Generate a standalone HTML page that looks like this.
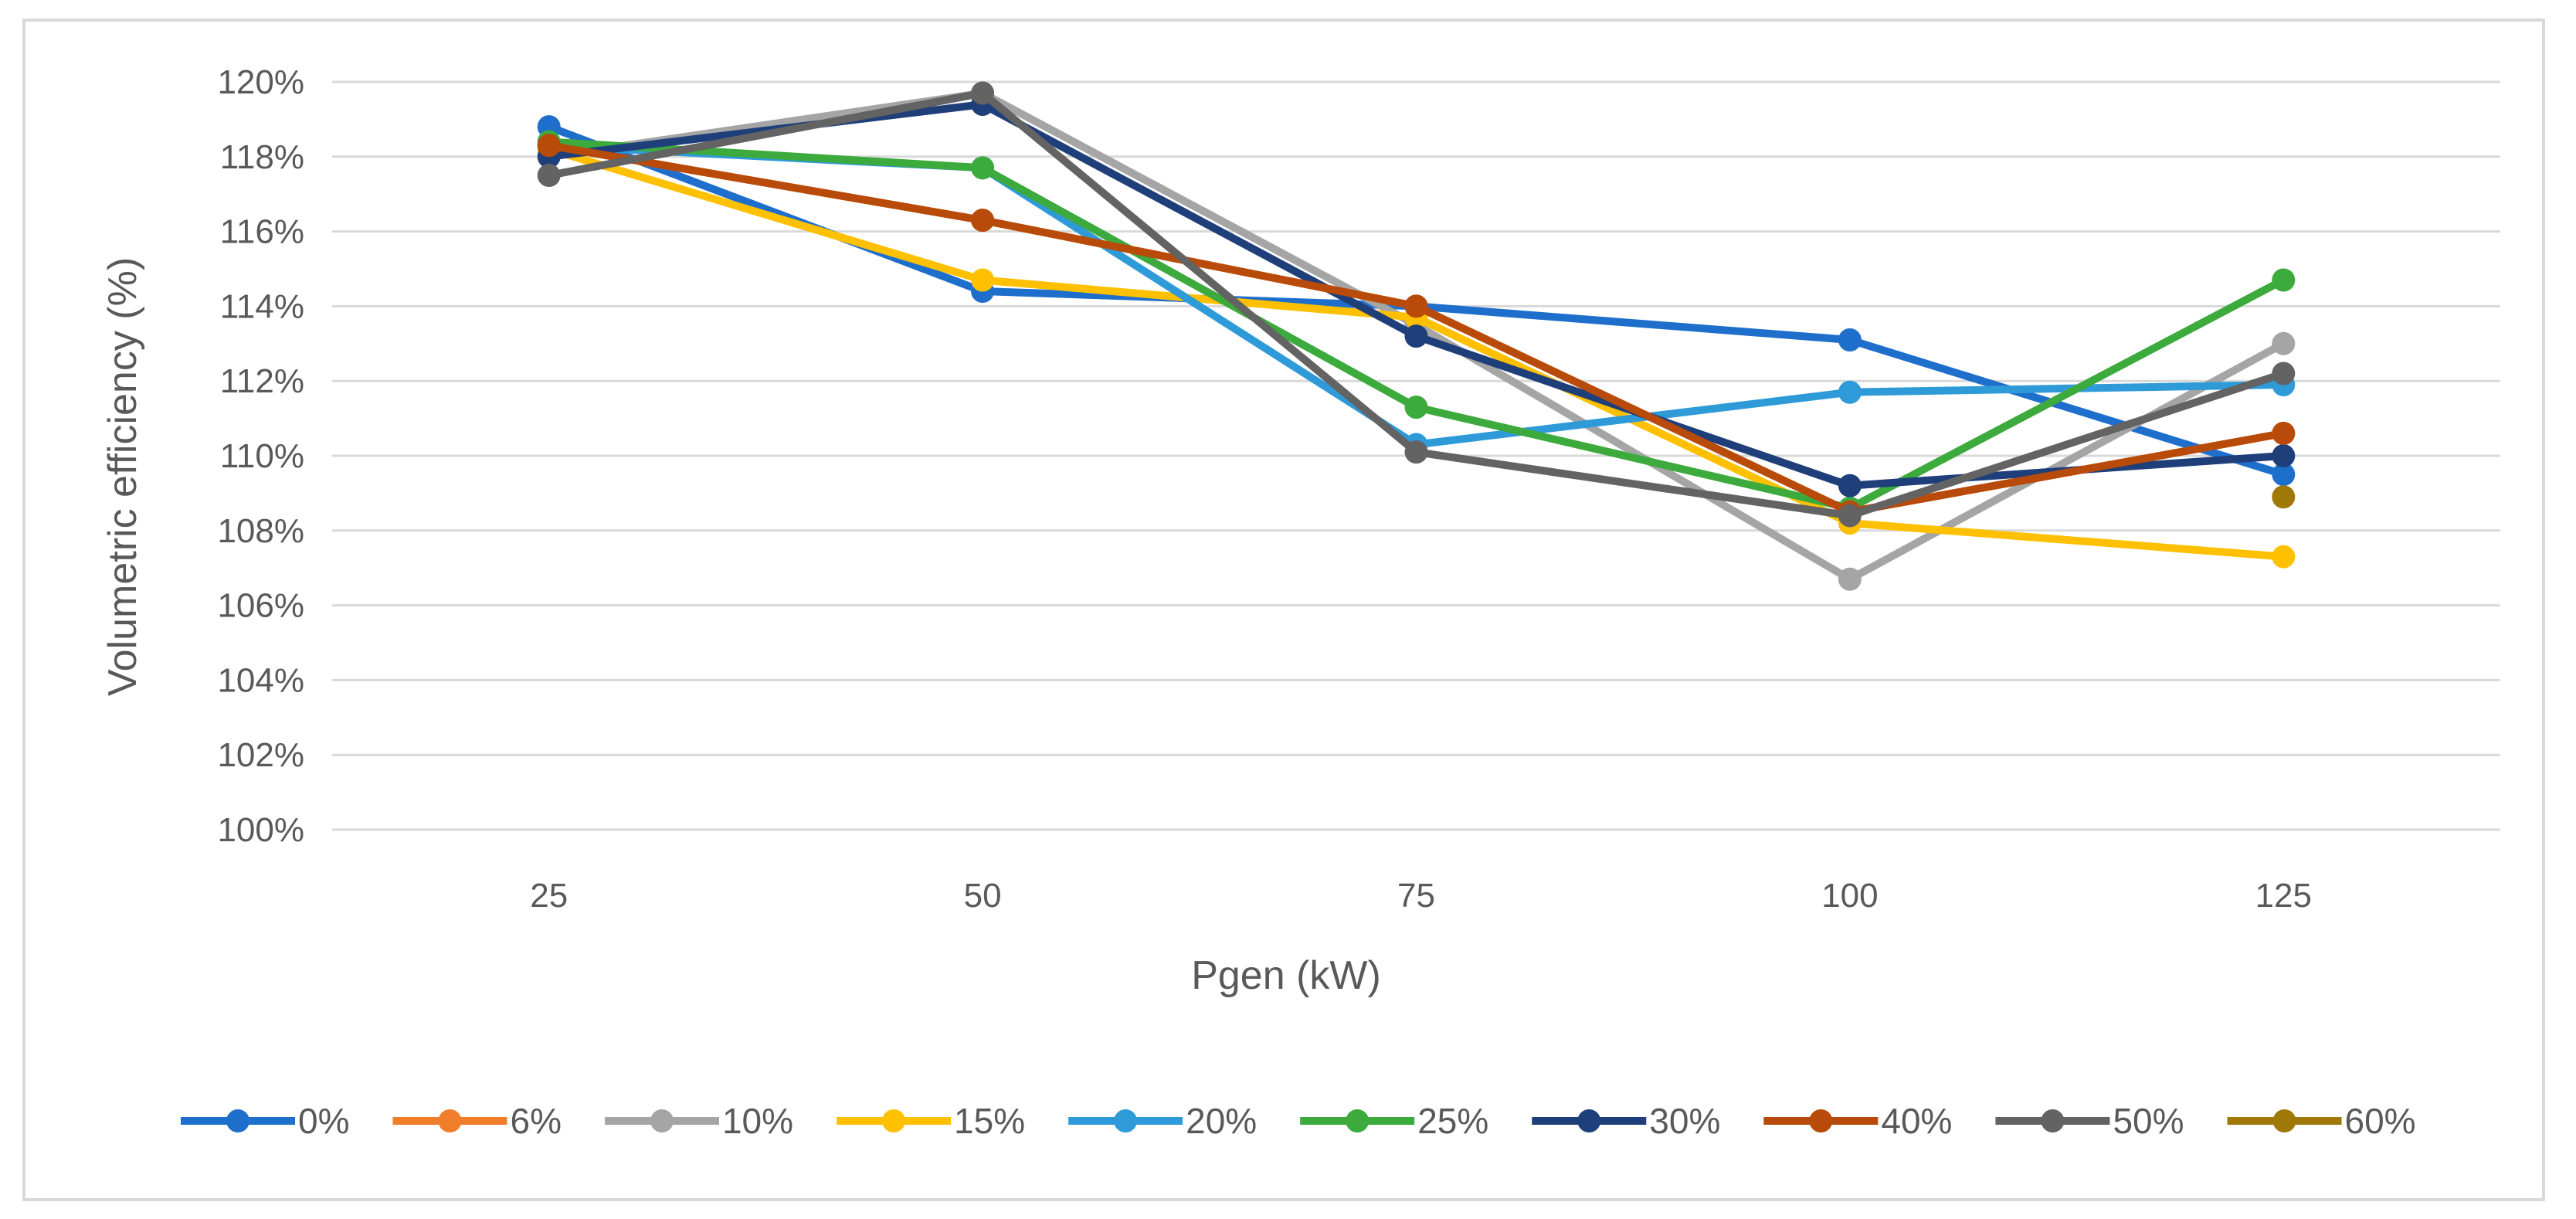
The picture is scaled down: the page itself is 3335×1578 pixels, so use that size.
<!DOCTYPE html>
<html><head><meta charset="utf-8"><style>
html,body{margin:0;padding:0;background:#fff}
svg{display:block}
text{font-family:"Liberation Sans",sans-serif;fill:#595959}
</style></head><body>
<svg id="chart" width="3335" height="1578">
<rect x="31" y="26" width="3262" height="1527" fill="#fff" stroke="#d9d9d9" stroke-width="4"/>
<g id="grid"></g><g id="yticks"></g><g id="xticks"></g><g id="series"></g><g id="legend"></g>
<text x="1665" y="1280" font-size="52" text-anchor="middle">Pgen (kW)</text>
<text transform="translate(176,617) rotate(-90)" font-size="52" text-anchor="middle">Volumetric efficiency (%)</text>
</svg>
<script>
const categories = [25, 50, 75, 100, 125];
const yTicks = [100, 102, 104, 106, 108, 110, 112, 114, 116, 118, 120];
const seriesNames = ["0%", "6%", "10%", "15%", "20%", "25%", "30%", "40%", "50%", "60%"];
const seriesColors = ["#1E6FCC", "#F07D2A", "#A5A5A5", "#FFC000", "#2E9BD8", "#3CAA3C", "#1F3F7A", "#B84A0A", "#636363", "#A07808"];
const s0 = [118.8, 114.4, 114.0, 113.1, 109.5];
const s6 = [118.3, 116.3, 114.0, 108.5, 110.6];
const s10 = [118.0, 119.7, 113.5, 106.7, 113.0];
const s15 = [118.2, 114.7, 113.7, 108.2, 107.3];
const s20 = [118.3, 117.7, 110.3, 111.7, 111.9];
const s25 = [118.4, 117.7, 111.3, 108.6, 114.7];
const s30 = [118.0, 119.4, 113.2, 109.2, 110.0];
const s40 = [118.3, 116.3, 114.0, 108.5, 110.6];
const s50 = [117.5, 119.7, 110.1, 108.4, 112.2];
const s60 = [null, null, null, null, 108.9];
const seriesValues = [s0, s6, s10, s15, s20, s25, s30, s40, s50, s60];

const NS = "http://www.w3.org/2000/svg";
const L = 430, R = 3237, T = 106, B = 1074;
const yMin = 100, yMax = 120;
const xs = i => L + (R - L) / categories.length * (i + 0.5);
const ys = v => B - (v - yMin) / (yMax - yMin) * (B - T);
function mk(tag, attrs, parent){const e=document.createElementNS(NS,tag);for(const k in attrs)e.setAttribute(k,attrs[k]);parent.appendChild(e);return e;}

const grid = document.getElementById('grid'), yt = document.getElementById('yticks'), xt = document.getElementById('xticks');
yTicks.forEach(t => {
  const ln = mk('line',{x1:L,x2:R,y1:ys(t),y2:ys(t),stroke:'#d9d9d9','stroke-width':3},grid);
  
  
  const tx = mk('text',{x:L-36,y:ys(t)+15,'font-size':44,'text-anchor':'end'},yt);
  tx.textContent = t + '%';
  
  
});
categories.forEach((c,i) => {
  const tx = mk('text',{x:xs(i),y:1174,'font-size':44,'text-anchor':'middle'},xt);
  tx.textContent = c;
  
  
});

const sg = document.getElementById('series');
seriesValues.forEach((vals, si) => {
  const g = mk('g',{},sg);
  
  
  const pts = [];
  vals.forEach((v,i)=>{ if(v!==null) pts.push(xs(i)+','+ys(v)); });
  if (pts.length > 1) {
    const pl = mk('polyline',{points:pts.join(' '),fill:'none',stroke:seriesColors[si],'stroke-width':10,'stroke-linejoin':'round'},g);
    
    
  }
  vals.forEach((v,i)=>{
    if(v===null) return;
    const c = mk('circle',{cx:xs(i),cy:ys(v),r:15,fill:seriesColors[si]},g);
    
    
  });
});

const lg = document.getElementById('legend');
let lx = 234; const ly = 1451;
seriesNames.forEach((n, si) => {
  const g = mk('g',{},lg);
  
  
  mk('line',{x1:lx,x2:lx+148,y1:ly,y2:ly,stroke:seriesColors[si],'stroke-width':10},g);
  mk('circle',{cx:lx+74,cy:ly,r:15,fill:seriesColors[si]},g);
  const tx = mk('text',{x:lx+152,y:ly+16,'font-size':46},g);
  tx.textContent = n;
  lx += 152 + tx.getComputedTextLength() + 56;
});
</script>
</body></html>
